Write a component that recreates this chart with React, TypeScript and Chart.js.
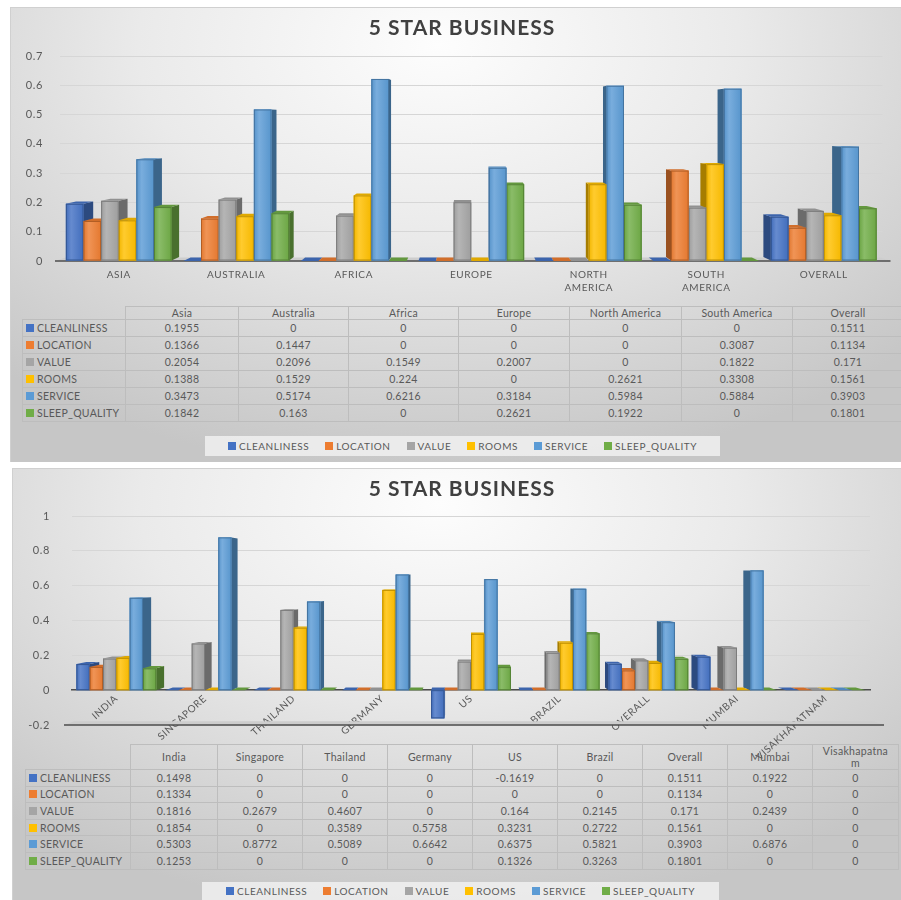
import React, { useEffect, useRef } from 'react';
import { Chart, registerables } from 'chart.js';

Chart.register(...registerables);

// ---------- data ----------
const SERIES = ['CLEANLINESS', 'LOCATION', 'VALUE', 'ROOMS', 'SERVICE', 'SLEEP_QUALITY'];
const COLORS = ['#4472C4', '#ED7D31', '#A5A5A5', '#FFC000', '#5B9BD5', '#70AD47'];

const chartTitle = '5 STAR BUSINESS';

const regionCategories = ['Asia', 'Australia', 'Africa', 'Europe', 'North America', 'South America', 'Overall'];
const regionAxisLabels = [['ASIA'], ['AUSTRALIA'], ['AFRICA'], ['EUROPE'], ['NORTH', 'AMERICA'], ['SOUTH', 'AMERICA'], ['OVERALL']];
const regionCleanliness = [0.1955, 0, 0, 0, 0, 0, 0.1511];
const regionLocation = [0.1366, 0.1447, 0, 0, 0, 0.3087, 0.1134];
const regionValue = [0.2054, 0.2096, 0.1549, 0.2007, 0, 0.1822, 0.171];
const regionRooms = [0.1388, 0.1529, 0.224, 0, 0.2621, 0.3308, 0.1561];
const regionService = [0.3473, 0.5174, 0.6216, 0.3184, 0.5984, 0.5884, 0.3903];
const regionSleep = [0.1842, 0.163, 0, 0.2621, 0.1922, 0, 0.1801];
const regionYMin = 0;
const regionYMax = 0.7;
const regionYStep = 0.1;

const cityCategories = ['India', 'Singapore', 'Thailand', 'Germany', 'US', 'Brazil', 'Overall', 'Mumbai', 'Visakhapatnam'];
const cityAxisLabels = ['INDIA', 'SINGAPORE', 'THAILAND', 'GERMANY', 'US', 'BRAZIL', 'OVERALL', 'MUMBAI', 'VISAKHAPATNAM'];
const cityCleanliness = [0.1498, 0, 0, 0, -0.1619, 0, 0.1511, 0.1922, 0];
const cityLocation = [0.1334, 0, 0, 0, 0, 0, 0.1134, 0, 0];
const cityValue = [0.1816, 0.2679, 0.4607, 0, 0.164, 0.2145, 0.171, 0.2439, 0];
const cityRooms = [0.1854, 0, 0.3589, 0.5758, 0.3231, 0.2722, 0.1561, 0, 0];
const cityService = [0.5303, 0.8772, 0.5089, 0.6642, 0.6375, 0.5821, 0.3903, 0.6876, 0];
const citySleep = [0.1253, 0, 0, 0, 0.1326, 0.3263, 0.1801, 0, 0];
const cityYMin = -0.2;
const cityYMax = 1;
const cityYStep = 0.2;

const regionSeries = [regionCleanliness, regionLocation, regionValue, regionRooms, regionService, regionSleep];
const citySeries = [cityCleanliness, cityLocation, cityValue, cityRooms, cityService, citySleep];

// ---------- helpers ----------
const FONT = 'Lato, "Open Sans", sans-serif';
const TEXT = '#595959';

function mix(hex: string, f: number) {
  const n = parseInt(hex.slice(1), 16);
  const ch = [(n >> 16) & 255, (n >> 8) & 255, n & 255].map((c) => (f < 0 ? c * (1 + f) : c + (255 - c) * f));
  return `rgb(${ch.map((c) => Math.round(c)).join(',')})`;
}

function geom(chart: any, opts: any) {
  const ca = chart.chartArea;
  const vx = (ca.left + ca.right) / 2;
  const vy = ca.top + (ca.bottom - ca.top) * opts.vy;
  const s = opts.s;
  const p = (x: number, y: number) => [vx + (x - vx) * s, vy + (y - vy) * s];
  return { vx, vy, p, ca };
}

function poly(ctx: CanvasRenderingContext2D, pts: number[][], fill: string) {
  ctx.beginPath();
  ctx.moveTo(pts[0][0], pts[0][1]);
  for (let i = 1; i < pts.length; i++) ctx.lineTo(pts[i][0], pts[i][1]);
  ctx.closePath();
  ctx.fillStyle = fill;
  ctx.fill();
}

const letterSpacing = {
  id: 'letterSpacing',
  beforeDraw(chart: any) { (chart.ctx as any).letterSpacing = '0.6px'; },
  afterDraw(chart: any) { (chart.ctx as any).letterSpacing = '0px'; },
};

const bars3d = {
  id: 'bars3d',
  beforeDatasetsDraw(chart: any, _a: any, opts: any) {
    const { ctx } = chart;
    const g = geom(chart, opts);
    const yf = g.ca.bottom;
    const xl = g.ca.left - opts.floorLeft;
    const xr = g.ca.right + opts.floorRight;
    ctx.save();
    poly(ctx, [[xl, yf], [xr, yf], g.p(xr, yf), g.p(xl, yf)], '#cdcdcd');
    ctx.strokeStyle = '#4d4d4d';
    ctx.lineWidth = 1.5;
    ctx.beginPath();
    ctx.moveTo(xl, yf);
    ctx.lineTo(xr, yf);
    ctx.stroke();
    ctx.restore();
  },
  afterDatasetsDraw(chart: any, _a: any, opts: any) {
    const { ctx } = chart;
    const g = geom(chart, opts);
    const items: any[] = [];
    chart.data.datasets.forEach((ds: any, i: number) => {
      const meta = chart.getDatasetMeta(i);
      if (meta.hidden) return;
      meta.data.forEach((el: any) => items.push({ el, color: ds.backgroundColor }));
    });
    items.sort((a, b) => Math.abs(b.el.x - g.vx) - Math.abs(a.el.x - g.vx));
    ctx.save();
    for (const { el, color } of items) {
      const x1 = el.x - el.width / 2;
      const x2 = el.x + el.width / 2;
      const yHi = Math.min(el.y, el.base);
      const yLo = Math.max(el.y, el.base);
      const dark = mix(color, -0.35);
      if (x2 < g.vx) {
        poly(ctx, [[x2, yHi], g.p(x2, yHi), g.p(x2, yLo), [x2, yLo]], dark);
      } else if (x1 > g.vx) {
        poly(ctx, [[x1, yHi], g.p(x1, yHi), g.p(x1, yLo), [x1, yLo]], dark);
      }
      if (yHi > g.vy) {
        poly(ctx, [[x1, yHi], [x2, yHi], g.p(x2, yHi), g.p(x1, yHi)], mix(color, -0.12));
      }
      if (yLo - yHi > 0.5) {
        const grad = ctx.createLinearGradient(x1, 0, x2, 0);
        grad.addColorStop(0, mix(color, -0.05));
        grad.addColorStop(0.3, mix(color, 0.18));
        grad.addColorStop(1, mix(color, -0.04));
        ctx.fillStyle = grad;
        ctx.fillRect(x1, yHi, x2 - x1, yLo - yHi);
        ctx.strokeStyle = mix(color, -0.25);
        ctx.lineWidth = 1;
        ctx.strokeRect(x1 + 0.5, yHi + 0.5, x2 - x1 - 1, yLo - yHi - 1);
      }
    }
    ctx.restore();
  },
};

const numLabel = (v: any) => String(Number(Number(v).toFixed(3)));

function makeDatasets(series: number[][]) {
  return SERIES.map((name, i) => ({
    label: name,
    data: series[i],
    backgroundColor: COLORS[i],
    borderWidth: 0,
    categoryPercentage: 0.9,
    barPercentage: 1,
  }));
}

// ---------- components ----------
function DataTable(props: {
  left: number; top: number; colWidths: number[]; headerHeight: number; rowHeight: number;
  categories: string[]; series: number[][]; wrapAt?: number;
}) {
  const { left, top, colWidths, headerHeight, rowHeight, categories, series, wrapAt } = props;
  const total = colWidths.reduce((a, b) => a + b, 0);
  const cell: React.CSSProperties = {
    border: '1px solid #bdbdbd', padding: 0, textAlign: 'center', fontWeight: 'normal',
    lineHeight: '12px', whiteSpace: 'nowrap', overflow: 'hidden',
  };
  return (
    <table style={{
      position: 'absolute', left, top, width: total, borderCollapse: 'collapse', tableLayout: 'fixed',
      fontFamily: FONT, fontSize: 10.5, color: TEXT, zIndex: 1, letterSpacing: '0.3px',
    }}>
      <colgroup>{colWidths.map((w, i) => <col key={i} style={{ width: w }} />)}</colgroup>
      <thead>
        <tr style={{ height: headerHeight }}>
          <th style={{ ...cell, border: 'none' }}></th>
          {categories.map((c) => (
            <th key={c} style={cell}>
              {wrapAt && c.length > wrapAt ? (<>{c.slice(0, wrapAt)}<br />{c.slice(wrapAt)}</>) : c}
            </th>
          ))}
        </tr>
      </thead>
      <tbody>
        {SERIES.map((name, i) => (
          <tr key={name} style={{ height: rowHeight }}>
            <td style={{ ...cell, textAlign: 'left', paddingLeft: 3 }}>
              <span style={{ display: 'inline-block', width: 8, height: 8, background: COLORS[i], marginRight: 3, verticalAlign: 0 }} />
              {name}
            </td>
            {series[i].map((v, j) => <td key={j} style={cell}>{String(v)}</td>)}
          </tr>
        ))}
      </tbody>
    </table>
  );
}

function Legend(props: { left: number; top: number; width: number; height: number }) {
  const { left, top, width, height } = props;
  return (
    <div style={{
      position: 'absolute', left, top, width, height, background: 'rgba(246,246,246,0.75)',
      display: 'flex', alignItems: 'center', justifyContent: 'center', gap: 16,
      fontFamily: FONT, fontSize: 10, color: TEXT, zIndex: 3, letterSpacing: '0.55px',
    }}>
      {SERIES.map((name, i) => (
        <span key={name} style={{ display: 'flex', alignItems: 'center', whiteSpace: 'nowrap' }}>
          <span style={{ display: 'inline-block', width: 8, height: 8, background: COLORS[i], marginRight: 3 }} />
          {name}
        </span>
      ))}
    </div>
  );
}

function Title(props: { x: number; y: number }) {
  return (
    <div style={{
      position: 'absolute', left: props.x, top: props.y, transform: 'translate(-50%, -50%)',
      fontFamily: FONT, fontWeight: 'bold', fontSize: 21, letterSpacing: '1px', color: '#404040', whiteSpace: 'nowrap', zIndex: 3,
    }}>{chartTitle}</div>
  );
}

export default function App() {
  const topRef = useRef<HTMLCanvasElement>(null);
  const botRef = useRef<HTMLCanvasElement>(null);

  useEffect(() => {
    const tickFont = { family: FONT, size: 11 };
    const catFont = { family: FONT, size: 10, lineHeight: 1.3 };

    const top = new Chart(topRef.current as HTMLCanvasElement, {
      type: 'bar',
      data: { labels: regionAxisLabels as any, datasets: makeDatasets(regionSeries) as any },
      plugins: [letterSpacing as any, bars3d as any],
      options: {
        responsive: false,
        animation: false,
        devicePixelRatio: 1,
        layout: { padding: { top: 49, right: 18.5, left: 0, bottom: 0 } },
        plugins: {
          legend: { display: false },
          title: { display: false },
          tooltip: { enabled: false },
          bars3d: { vy: 0.3, s: 0.975, floorLeft: 5, floorRight: 8 },
        } as any,
        scales: {
          x: {
            grid: { display: false, drawTicks: false },
            border: { display: false },
            ticks: { color: TEXT, font: catFont, padding: 7, maxRotation: 0, minRotation: 0, autoSkip: false },
            afterFit: (s: any) => { s.height = 46; },
          },
          y: {
            min: regionYMin,
            max: regionYMax,
            ticks: { stepSize: regionYStep, color: TEXT, font: tickFont, padding: 17, callback: numLabel },
            grid: { color: '#d6d6d6', drawTicks: false },
            border: { display: false },
            afterFit: (s: any) => { s.width = 50; },
          },
        },
      },
    });

    const bot = new Chart(botRef.current as HTMLCanvasElement, {
      type: 'bar',
      data: { labels: cityAxisLabels, datasets: makeDatasets(citySeries) as any },
      plugins: [letterSpacing as any, bars3d as any],
      options: {
        responsive: false,
        animation: false,
        devicePixelRatio: 1,
        layout: { padding: { top: 48, right: 31, left: 0, bottom: 43 } },
        plugins: {
          legend: { display: false },
          title: { display: false },
          tooltip: { enabled: false },
          bars3d: { vy: 0.3, s: 0.975, floorLeft: 8, floorRight: 14 },
        } as any,
        scales: {
          x: {
            position: { y: 0 } as any,
            grid: { display: false, drawTicks: false },
            border: { display: true, color: '#4d4d4d', width: 1.5 },
            ticks: { color: TEXT, font: catFont, padding: 2, maxRotation: 42, minRotation: 42, autoSkip: false },
            afterFit: (s: any) => { s.height = 43; },
          },
          y: {
            min: cityYMin,
            max: cityYMax,
            ticks: { stepSize: cityYStep, color: TEXT, font: tickFont, padding: 22, callback: numLabel },
            grid: { color: '#d6d6d6', drawTicks: false },
            border: { display: false },
            afterFit: (s: any) => { s.width = 60; },
          },
        },
      },
    });

    return () => { top.destroy(); bot.destroy(); };
  }, []);

  const panelBg = 'radial-gradient(ellipse 75% 95% at 48% 8%, #fdfdfd 0%, #eaeaea 45%, #c6c6c6 100%)';

  return (
    <div style={{ position: 'absolute', left: 0, top: 0, width: 901, height: 900, overflow: 'hidden', background: '#ffffff' }}>
      <div style={{ position: 'absolute', left: 10, top: 7, width: 891, height: 455, background: panelBg, borderTop: '1px solid #d0d0d0', borderLeft: '1px solid #d0d0d0', boxSizing: 'border-box' }} />
      <div style={{ position: 'absolute', left: 12, top: 468, width: 889, height: 432, background: panelBg, borderTop: '1px solid #d0d0d0', borderLeft: '1px solid #d0d0d0', boxSizing: 'border-box' }} />

      <Title x={462} y={26} />
      <Title x={462} y={487} />

      <DataTable left={22} top={306} colWidths={[103, 113, 110, 110, 111, 112, 111, 111]}
        headerHeight={13} rowHeight={17} categories={regionCategories} series={regionSeries} />
      <DataTable left={25} top={744} colWidths={[105, 87, 85, 85, 85, 85, 85, 85, 85, 86]}
        headerHeight={25} rowHeight={16.6} categories={cityCategories} series={citySeries} wrapAt={12} />

      <canvas ref={topRef} width={891} height={300}
        style={{ position: 'absolute', left: 10, top: 7, width: 891, height: 300, zIndex: 2 }} />
      <canvas ref={botRef} width={889} height={300}
        style={{ position: 'absolute', left: 12, top: 468, width: 889, height: 300, zIndex: 2 }} />

      <Legend left={205} top={436} width={515} height={20} />
      <Legend left={202} top={882} width={517} height={18} />
    </div>
  );
}
